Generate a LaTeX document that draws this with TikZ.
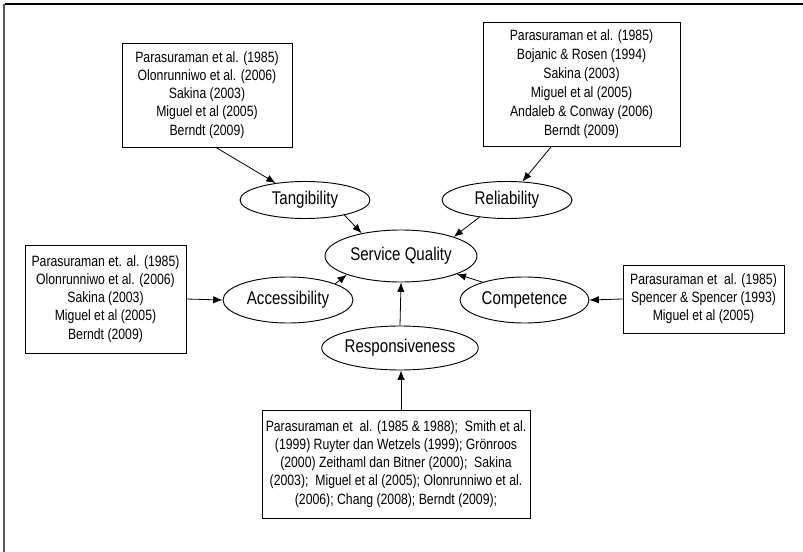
\documentclass[tikz,border=0pt]{standalone}
\usepackage{fontspec}
\setmainfont{Liberation Sans}[FakeStretch=0.82]
\usetikzlibrary{shapes.geometric,arrows.meta}

\tikzset{
  refbox/.style={draw=black, line width=0.7pt, rectangle, align=center, inner sep=0pt,
    font=\fontsize{11.2}{13.6}\selectfont},
  dimension/.style={draw=black, line width=0.7pt, ellipse, inner sep=0pt,
    font=\fontsize{13.8}{16}\selectfont},
  link/.style={draw=black, line width=0.6pt, -{Latex[length=7pt,width=5.5pt]}},
  frameline/.style={line width=0.9pt}
}

\begin{document}
\begin{tikzpicture}[x=0.75pt,y=-0.75pt]
  \useasboundingbox (0,0) rectangle (803,552);

  % page frame: top and left edges
  \draw[frameline, black] (5,4) -- (803,4);
  \draw[frameline, gray!70!black] (4,4) -- (4,552);

  % central construct
  \node[dimension, minimum width=114pt, minimum height=39pt] (sq) at (401,256) {Service Quality};

  % dimensions
  \node[dimension, minimum width=97.5pt, minimum height=27.75pt] (tang) at (305,200) {Tangibility};
  \node[dimension, minimum width=97.5pt, minimum height=27.75pt] (reli) at (507,200) {Reliability};
  \node[dimension, minimum width=97.5pt, minimum height=34.5pt] (acce) at (288,300) {Accessibility};
  \node[dimension, minimum width=96.75pt, minimum height=34.5pt] (comp) at (524.5,300) {Competence};
  \node[dimension, minimum width=93pt, minimum height=33pt] (resp) at (400,348) {Responsiveness};

  % literature sources
  \node[refbox, minimum width=127.5pt, minimum height=78pt] (tangsrc) at (207,95)
    {Parasuraman et al. (1985)\\Olonrunniwo et al. (2006)\\Sakina (2003)\\Miguel et al (2005)\\Berndt (2009)};
  \node[refbox, font=\fontsize{11.2}{14.25}\selectfont, minimum width=147.75pt, minimum height=93pt] (relisrc) at (581.5,84.5)
    {Parasuraman et al. (1985)\\Bojanic \& Rosen (1994)\\Sakina (2003)\\Miguel et al (2005)\\Andaleb \& Conway (2006)\\Berndt (2009)};
  \node[refbox, minimum width=120.75pt, minimum height=81pt] (accesrc) at (105.5,299)
    {Parasuraman et. al. (1985)\\Olonrunniwo et al. (2006)\\Sakina (2003)\\Miguel et al (2005)\\Berndt (2009)};
  \node[refbox, minimum width=120.75pt, minimum height=51pt] (compsrc) at (703.5,299)
    {Parasuraman et\ \ al. (1985)\\Spencer \& Spencer (1993)\\Miguel et al (2005)};
  \node[refbox, minimum width=201pt, minimum height=81pt] (respsrc) at (396,464)
    {Parasuraman et\ \ al. (1985 \& 1988);\ \ Smith et al.\\(1999) Ruyter dan Wetzels (1999); Grönroos\\(2000) Zeithaml dan Bitner (2000);\ \ Sakina\\(2003);\ \ Miguel et al (2005); Olonrunniwo et al.\\(2006); Chang (2008); Berndt (2009);};

  % sources feed the dimensions
  \draw[link] ([xshift=6.75pt]tangsrc.south) -- (tang.150);
  \draw[link] ([xshift=-22.9pt]relisrc.south) -- (reli.50);
  \draw[link] (accesrc.east) -- (acce.west);
  \draw[link] (compsrc.west) -- (comp.east);
  \draw[link] ([xshift=3.75pt]respsrc.north) -- ([xshift=0.75pt]resp.south);

  % dimensions feed service quality
  \draw[link] (tang.-21.5) -- (sq.150);
  \draw[link] (reli.-148.5) -- (sq.20);
  \draw[link] (acce.19) -- (sq.-161);
  \draw[link] (comp.157) -- (sq.-18.7);
  \draw[link] (resp.north) -- (sq.south);
\end{tikzpicture}
\end{document}
